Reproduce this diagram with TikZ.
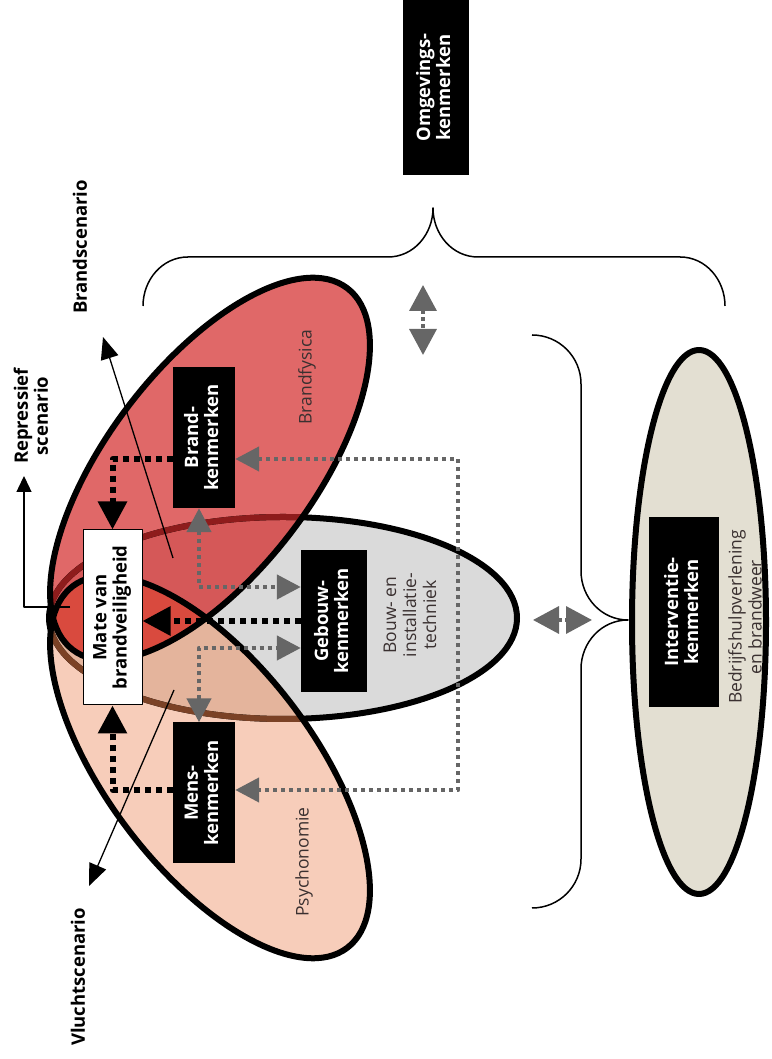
\documentclass[tikz,border=0pt]{standalone}
\usepackage{fontspec}
\setmainfont{Open Sans}
\usepackage{graphicx}
\usetikzlibrary{arrows.meta}

\definecolor{brandkleur}{HTML}{E06868}
\definecolor{brandgrijs}{HTML}{D55858}
\definecolor{lenskleur}{HTML}{D94A3E}
\definecolor{menskleur}{HTML}{F7CDBA}
\definecolor{mensgrijs}{HTML}{E4B49C}
\definecolor{lichtgrijs}{HTML}{DADADA}
\definecolor{beige}{HTML}{E3DFD2}
\definecolor{donkerrood}{HTML}{8E1C1C}
\definecolor{bruin}{HTML}{7B4226}
\definecolor{pijlgrijs}{HTML}{666666}
\definecolor{donkertekst}{HTML}{3A3030}

\newcommand{\tekstmaat}{\fontsize{17.5}{20}\selectfont}
\newcommand{\vetmaat}{\fontsize{18.5}{20}\selectfont\bfseries}
\newcommand{\vtekst}[1]{\rotatebox{90}{\begin{tabular}{@{}c@{}}#1\end{tabular}}}

\tikzset{
  zwartkop/.tip={Triangle[length=28pt,width=28pt]},
  grijskop/.tip={Triangle[length=24pt,width=24pt]},
  dunkop/.tip={Triangle[length=22pt,width=18pt]},
  kader/.style={fill=black,text=white,font=\vetmaat,inner sep=0pt},
  label/.style={rotate=90,font=\vetmaat,align=center},
  vaklabel/.style={rotate=90,font=\tekstmaat,text=donkertekst,align=center},
  rand/.style={line width=6pt},
  brandrot/.style={rotate around={52.8:(210,590)}},
  mensrot/.style={rotate around={-52.8:(210,292)}}
}

\begin{document}
\begin{tikzpicture}[x=1pt,y=1pt,line join=round,
  zwartstip/.style={line width=6pt,dash pattern=on 6pt off 5pt,-zwartkop},
  grijsstip/.style={draw=pijlgrijs,line width=4.5pt,dash pattern=on 4pt off 4pt,grijskop-grijskop},
  wisselpijl/.style={draw=pijlgrijs,line width=3.5pt,dash pattern=on 4pt off 3pt,
    {Triangle[length=26pt,width=27pt]}-{Triangle[length=26pt,width=27pt]}},
  dunpijl/.style={line width=1.3pt,-dunkop},
  accolade/.style={line width=1.5pt}]
\useasboundingbox (0,0) rectangle (771,1059);

% vlakken
\fill[lichtgrijs] (283,441) ellipse [x radius=234, y radius=101];
\fill[menskleur, mensrot] (210,292) ellipse [x radius=227, y radius=103];
\fill[brandkleur, brandrot] (210,590) ellipse [x radius=227, y radius=103];
\begin{scope}
  \clip (283,441) ellipse [x radius=234, y radius=101];
  \fill[mensgrijs, mensrot] (210,292) ellipse [x radius=227, y radius=103];
  \fill[brandgrijs, brandrot] (210,590) ellipse [x radius=227, y radius=103];
\end{scope}
\begin{scope}
  \clip[mensrot] (210,292) ellipse [x radius=227, y radius=103];
  \fill[lenskleur, brandrot] (210,590) ellipse [x radius=227, y radius=103];
\end{scope}

% randen
\draw[rand] (283,441) ellipse [x radius=234, y radius=101];
\begin{scope}
  \clip[mensrot] (210,292) ellipse [x radius=227, y radius=103];
  \draw[rand, bruin] (283,441) ellipse [x radius=234, y radius=101];
\end{scope}
\begin{scope}
  \clip[brandrot] (210,590) ellipse [x radius=227, y radius=103];
  \draw[rand, donkerrood] (283,441) ellipse [x radius=234, y radius=101];
\end{scope}
\draw[rand, mensrot] (210,292) ellipse [x radius=227, y radius=103];
\draw[rand, brandrot] (210,590) ellipse [x radius=227, y radius=103];
\draw[rand, fill=beige] (699,437) ellipse [x radius=67, y radius=272];

% accolades
\draw[accolade] (143,753) to[out=90,in=180] (188,802) -- (388,802)
  to[out=0,in=-90] (433,851) to[out=-90,in=180] (478,802) -- (680,802)
  to[out=0,in=90] (725,753);
\draw[accolade] (532,724) to[out=0,in=90] (581,675) -- (581,488)
  to[out=-90,in=180] (628,439) to[out=180,in=90] (581,390) -- (581,200)
  to[out=-90,in=0] (532,151);

% teksten
\node[vaklabel] (fysica) at (307,682) {Brandfysica};
\node[vaklabel] (psycho) at (304,197) {Psychonomie};
\node[vaklabel] (bouw) at (410,444) {Bouw- en\\installatie-\\techniek};
\node[vaklabel] (bhv) at (745,442) {Bedrijfshulpverlening\\en brandweer};
\node[label] (brandscen) at (80,812) {Brandscenario};
\node[label] (repressief) at (31,643) {Repressief\\scenario};
\node[label] (vlucht) at (78,82) {Vluchtscenario};

% kaders
\node[kader,minimum width=62pt,minimum height=141pt] (brand) at (204,621.5) {\vtekst{Brand-\\kenmerken}};
\node[kader,minimum width=62pt,minimum height=141pt] (mens) at (204,266) {\vtekst{Mens-\\kenmerken}};
\node[kader,minimum width=66pt,minimum height=142pt] (gebouw) at (334,438) {\vtekst{Gebouw-\\kenmerken}};
\node[kader,minimum width=66pt,minimum height=175pt] (omgeving) at (436,971.5) {\vtekst{Omgevings-\\kenmerken}};
\node[kader,minimum width=70pt,minimum height=190pt] (interventie) at (684,447) {\vtekst{Interventie-\\kenmerken}};
\node[draw,fill=white,line width=1pt,font=\vetmaat,inner sep=0pt,
  minimum width=59pt,minimum height=175pt] (mate) at (112.5,441.5) {\vtekst{Mate van\\brandveiligheid}};

% scenariopijlen
\coordinate (bs1) at (173,501);
\coordinate (bs2) at (103,722);
\coordinate (vs1) at (174,369);
\coordinate (vs2) at (89,173);
\coordinate (rs1) at (70,452);
\coordinate (rs2) at (24,583);
\draw[dunpijl] (bs1) -- (bs2);
\draw[dunpijl] (vs1) -- (vs2);
\draw[line width=1.3pt,-{Triangle[length=16pt,width=15pt]}] (rs1) -| (rs2);

% verbindingen
\draw[zwartstip] ([yshift=-21.5pt]brand.west) -| (mate.north);
\draw[zwartstip] ([yshift=3pt]mens.west) -| (mate.south);
\draw[zwartstip] (gebouw.west) -- (gebouw.west -| mate.east);
\coordinate (lus) at (458,435);
\draw[grijsstip] ([yshift=-21.5pt]brand.east) -| (lus) |- ([yshift=3pt]mens.east);
\draw[grijsstip] ([xshift=-5pt]brand.south) |- ([yshift=34pt]gebouw.west);
\draw[grijsstip] ([xshift=-5pt]mens.north) |- ([yshift=-27pt]gebouw.west);

% wisselwerking
\coordinate (wa) at (423,774);
\coordinate (wb) at (423,704);
\coordinate (wc) at (533,439);
\coordinate (wd) at (592,439);
\draw[wisselpijl] (wa) -- (wb);
\draw[wisselpijl] (wc) -- (wd);
\end{tikzpicture}
\end{document}
